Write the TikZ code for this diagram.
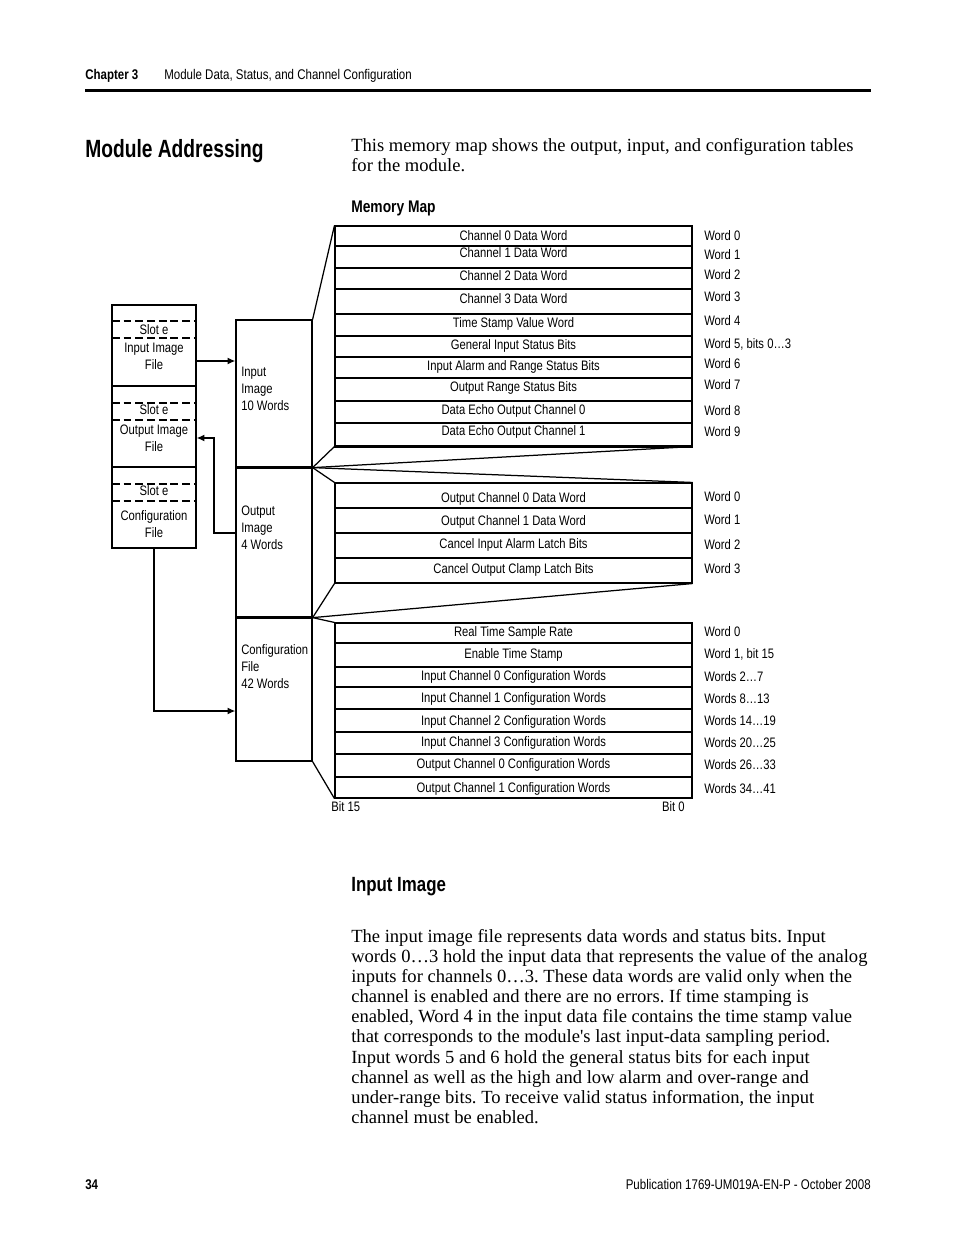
\documentclass[tikz,border=0pt]{standalone}
\usepackage{fontspec}
\setmainfont{Liberation Serif}
\newfontfamily\cond[FakeStretch=0.82]{Liberation Sans}
\newfontfamily\condT[FakeStretch=0.77]{Liberation Sans}
\usetikzlibrary{arrows.meta,fit}
\newcommand\memrow[7]{%
  \node[rowbox, fit={(335,#2) (692,#3)}] (#1) {};
  \node[lbl, anchor=mid] (#1t) at (513.5,#4) {#5};
  \node[lbl, anchor=mid west] (#1w) at (704,#6) {#7};}
\frenchspacing
\begin{document}
\begin{tikzpicture}[x=0.64151pt, y=-0.64151pt,
  lbl/.style={font=\cond\fontsize{8.8}{10.5}\selectfont, inner sep=0pt, yshift=-1.3pt},
  hdr/.style={font=\cond\fontsize{9}{11}\selectfont, inner sep=0pt, anchor=mid west, yshift=-1.3pt},
  body/.style={font=\fontsize{11.9}{14}\selectfont, inner sep=0pt, anchor=mid west, yshift=-1.9pt},
  head/.style={inner sep=0pt, anchor=mid west, yshift=-2.5pt},
  rowbox/.style={draw, line width=0.7pt, inner sep=0pt},
  mbox/.style={draw, line width=0.8pt, inner sep=0pt},
  fan/.style={line width=0.8pt},
  slotdash/.style={line width=0.9pt, dash pattern=on 5pt off 2.5pt},
  arr/.style={line width=0.9pt, -{Latex[length=5pt,width=4.5pt]}}]
\useasboundingbox (0,0) rectangle (954,1235);

% header
\node[hdr, font=\cond\bfseries\fontsize{9}{11}\selectfont] (chap) at (85,74) {Chapter 3};
\node[hdr] (chaptitle) at (164,74) {Module Data, Status, and Channel Configuration};
\draw[line width=1.9pt] (85,90.5) -- (871,90.5);

% title and intro
\node[head, yshift=-1pt, font=\condT\bfseries\fontsize{16}{18}\selectfont] (title) at (85,148) {Module Addressing};
\node[body] (intro1) at (351,145) {This memory map shows the output, input, and configuration tables};
\node[body] (intro2) at (351,165) {for the module.};
\node[head, font=\cond\bfseries\fontsize{10.8}{13}\selectfont] (mmap) at (351,205) {Memory Map};

% slot stack
\node[mbox, fit={(112,305) (196,386)}] (s1) {};
\node[mbox, fit={(112,386) (196,467)}] (s2) {};
\node[mbox, fit={(112,467) (196,548)}] (s3) {};
\draw[slotdash] (112,321) -- (196,321);
\draw[slotdash] (112,338) -- (196,338);
\draw[slotdash] (112,403) -- (196,403);
\draw[slotdash] (112,420) -- (196,420);
\draw[slotdash] (112,484) -- (196,484);
\draw[slotdash] (112,501) -- (196,501);
\node[lbl, anchor=mid] (s1a) at (154,329) {Slot e};
\node[lbl, anchor=mid] (s1b) at (154,347) {Input Image};
\node[lbl, anchor=mid] (s1c) at (154,364) {File};
\node[lbl, anchor=mid] (s2a) at (154,409) {Slot e};
\node[lbl, anchor=mid] (s2b) at (154,429) {Output Image};
\node[lbl, anchor=mid] (s2c) at (154,446) {File};
\node[lbl, anchor=mid] (s3a) at (154,490) {Slot e};
\node[lbl, anchor=mid] (s3b) at (154,515) {Configuration};
\node[lbl, anchor=mid] (s3c) at (154,532) {File};

% middle boxes
\node[mbox, fit={(236,320) (312,467)}] (ibox) {};
\node[mbox, fit={(236,467) (312,617)}] (obox) {};
\node[mbox, fit={(236,617) (312,761)}] (cbox) {};
\draw[line width=1.3pt] (ibox.south west) -- (ibox.south east);
\draw[line width=1.3pt] (obox.south west) -- (obox.south east);
\node[lbl, anchor=mid west] (ib1) at (241,371) {Input};
\node[lbl, anchor=mid west] (ib2) at (241,388) {Image};
\node[lbl, anchor=mid west] (ib3) at (241,405) {10 Words};
\node[lbl, anchor=mid west] (ob1) at (241,510) {Output};
\node[lbl, anchor=mid west] (ob2) at (241,527) {Image};
\node[lbl, anchor=mid west] (ob3) at (241,544) {4 Words};
\node[lbl, anchor=mid west] (cb1) at (241,649) {Configuration};
\node[lbl, anchor=mid west] (cb2) at (241,666) {File};
\node[lbl, anchor=mid west] (cb3) at (241,683) {42 Words};

% arrows
\coordinate (ya1) at (216,361);
\draw[arr] (s1.east |- ya1) -- (ibox.west |- ya1);
\coordinate (ya2) at (214,533);
\coordinate (ya3) at (214,438);
\draw[arr] (obox.west |- ya2) -- (ya2) -- (ya3) -- (s2.east |- ya3);
\coordinate (ya4) at (154,711);
\draw[arr] (s3.south) -- (ya4) -- (cbox.west |- ya4);

% table 1
\memrow{t1a}{226}{246}{235}{Channel 0 Data Word}{235}{Word 0}
\memrow{t1b}{246}{268}{252}{Channel 1 Data Word}{254}{Word 1}
\memrow{t1c}{268}{289}{275}{Channel 2 Data Word}{274}{Word 2}
\memrow{t1d}{289}{314}{298}{Channel 3 Data Word}{296}{Word 3}
\memrow{t1e}{314}{336}{322}{Time Stamp Value Word}{320}{Word 4}
\memrow{t1f}{336}{357}{344}{General Input Status Bits}{343}{Word 5, bits 0…3}
\memrow{t1g}{357}{378}{365}{Input Alarm and Range Status Bits}{363}{Word 6}
\memrow{t1h}{378}{401}{386}{Output Range Status Bits}{384}{Word 7}
\memrow{t1i}{401}{423}{409}{Data Echo Output Channel 0}{410}{Word 8}
\memrow{t1j}{423}{446}{430}{Data Echo Output Channel 1}{431}{Word 9}
\draw[line width=1.4pt] (t1j.south west) -- (t1j.south east);

% table 2
\memrow{t2a}{483}{508}{497}{Output Channel 0 Data Word}{496}{Word 0}
\memrow{t2b}{508}{533}{520}{Output Channel 1 Data Word}{519}{Word 1}
\memrow{t2c}{533}{558}{543}{Cancel Input Alarm Latch Bits}{544}{Word 2}
\memrow{t2d}{558}{583}{568}{Cancel Output Clamp Latch Bits}{568}{Word 3}

% table 3
\memrow{t3a}{623}{643}{631}{Real Time Sample Rate}{631}{Word 0}
\memrow{t3b}{643}{667}{653}{Enable Time Stamp}{653}{Word 1, bit 15}
\memrow{t3c}{667}{687}{675}{Input Channel 0 Configuration Words}{676}{Words 2…7}
\memrow{t3d}{687}{709}{697}{Input Channel 1 Configuration Words}{698}{Words 8…13}
\memrow{t3e}{709}{732}{720}{Input Channel 2 Configuration Words}{720}{Words 14…19}
\memrow{t3f}{732}{754}{741}{Input Channel 3 Configuration Words}{742}{Words 20…25}
\memrow{t3g}{754}{777}{763}{Output Channel 0 Configuration Words}{764}{Words 26…33}
\memrow{t3h}{777}{798}{787}{Output Channel 1 Configuration Words}{788}{Words 34…41}
\node[lbl, anchor=mid west] (bit15) at (331,806) {Bit 15};
\node[lbl, anchor=mid east] (bit0) at (685,806) {Bit 0};

% fans
\draw[fan] (ibox.north east) -- (t1a.north west);
\draw[fan] (ibox.south east) -- (t1j.south west);
\draw[fan] (ibox.south east) -- (t1j.south east);
\draw[fan] (ibox.south east) -- (t2a.north west);
\draw[fan] (ibox.south east) -- (t2a.north east);
\draw[fan] (obox.south east) -- (t2d.south west);
\draw[fan] (obox.south east) -- (t2d.south east);
\draw[fan] (obox.south east) -- (t3a.north west);
\draw[fan] (cbox.south east) -- (t3h.south west);

% input image section
\node[head, font=\cond\bfseries\fontsize{13.2}{16}\selectfont] (iihead) at (351,884) {Input Image};
\node[body] (p1) at (351,936) {The input image file represents data words and status bits. Input};
\node[body] (p2) at (351,956) {words 0…3 hold the input data that represents the value of the analog};
\node[body] (p3) at (351,976) {inputs for channels 0…3. These data words are valid only when the};
\node[body] (p4) at (351,996) {channel is enabled and there are no errors. If time stamping is};
\node[body] (p5) at (351,1016) {enabled, Word 4 in the input data file contains the time stamp value};
\node[body] (p6) at (351,1036) {that corresponds to the module\textquotesingle s last input-data sampling period.};
\node[body] (p7) at (351,1057) {Input words 5 and 6 hold the general status bits for each input};
\node[body] (p8) at (351,1077) {channel as well as the high and low alarm and over-range and};
\node[body] (p9) at (351,1097) {under-range bits. To receive valid status information, the input};
\node[body] (p10) at (351,1117) {channel must be enabled.};

% footer
\node[hdr, font=\cond\bfseries\fontsize{9}{11}\selectfont] (pgno) at (85,1184) {34};
\node[hdr, anchor=mid east] (pub) at (871,1184) {Publication 1769-UM019A-EN-P - October 2008};
\end{tikzpicture}
\end{document}
